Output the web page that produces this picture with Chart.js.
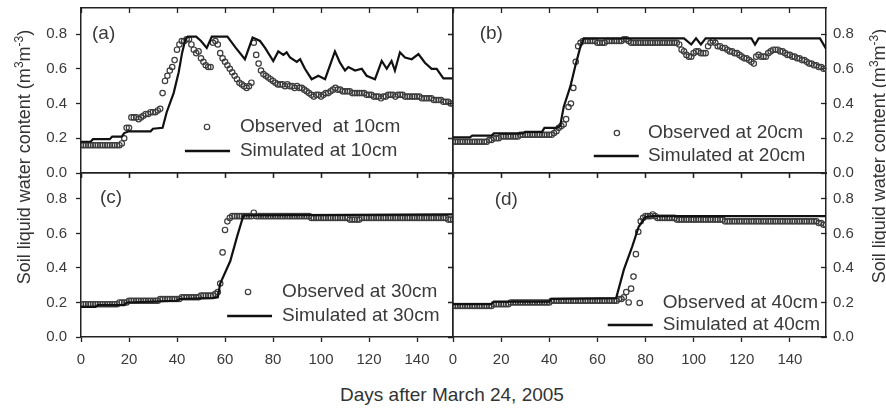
<!DOCTYPE html>
<html>
<head>
<meta charset="utf-8">
<script src="https://cdn.jsdelivr.net/npm/chart.js@4"></script>
<style>
  body { margin: 0; background: #fff; }
  #wrap { position: relative; width: 886px; height: 408px; overflow: hidden; background: #fff;
          font-family: "Liberation Sans", Arial, sans-serif; color: #333; }
  #wrap canvas { position: absolute; }
  .ytitle { position: absolute; width: 300px; height: 22px; line-height: 22px; text-align: center;
            font-size: 18px; white-space: nowrap; transform: rotate(-90deg); }
  .ytitle sup { font-size: 12px; line-height: 0; }
  #xtitle { position: absolute; left: 252px; top: 384px; width: 400px; text-align: center;
            font-size: 19px; line-height: 22px; }
</style>
</head>
<body>
<div id="wrap">
  <canvas id="pa" width="460" height="180" style="left:0;top:0"></canvas>
  <canvas id="pb" width="440" height="180" style="left:446px;top:0"></canvas>
  <canvas id="pc" width="460" height="204" style="left:0;top:166px"></canvas>
  <canvas id="pd" width="440" height="204" style="left:446px;top:166px"></canvas>
  <div class="ytitle" style="left:-126px;top:146px">Soil liquid water content (m<sup>3</sup>m<sup>-3</sup>)</div>
  <div class="ytitle" style="left:729px;top:145px">Soil liquid water content (m<sup>3</sup>m<sup>-3</sup>)</div>
  <div id="xtitle">Days after March 24, 2005</div>
</div>
<script>
/* observed: one reading per day, array index = day after March 24 */
var obs10 = [
  0.16,0.16,0.16,0.16,0.16,0.16,0.16,0.16,0.16,0.16,
  0.16,0.16,0.16,0.16,0.16,0.16,0.16,0.17,0.20,0.26,
  0.26,0.32,0.32,0.32,0.31,0.32,0.33,0.34,0.34,0.35,
  0.35,0.35,0.36,0.37,0.46,0.53,0.56,0.59,0.61,0.65,
  0.71,0.74,0.76,0.76,0.77,0.77,0.74,0.71,0.69,0.70,
  0.66,0.64,0.62,0.61,0.61,0.75,0.76,0.74,0.69,0.66,
  0.64,0.62,0.60,0.58,0.56,0.54,0.52,0.51,0.50,0.49,
  0.50,0.52,0.75,0.68,0.63,0.59,0.57,0.56,0.55,0.54,
  0.53,0.52,0.51,0.51,0.51,0.50,0.51,0.50,0.50,0.49,
  0.50,0.49,0.49,0.48,0.47,0.46,0.45,0.44,0.45,0.45,
  0.44,0.45,0.46,0.46,0.47,0.48,0.49,0.48,0.48,0.47,
  0.47,0.47,0.47,0.46,0.46,0.46,0.46,0.46,0.46,0.45,
  0.45,0.45,0.44,0.44,0.44,0.43,0.44,0.44,0.45,0.45,
  0.45,0.44,0.45,0.45,0.45,0.44,0.44,0.44,0.44,0.44,
  0.44,0.44,0.43,0.43,0.43,0.43,0.43,0.42,0.42,0.42,
  0.42,0.41,0.41,0.41,0.40,0.40
];
var obs20 = [
  0.18,0.18,0.18,0.18,0.18,0.18,0.18,0.18,0.18,0.18,
  0.18,0.18,0.18,0.18,0.18,0.19,0.19,0.20,0.20,0.20,
  0.21,0.21,0.21,0.21,0.21,0.21,0.21,0.21,0.22,0.22,
  0.22,0.22,0.22,0.22,0.22,0.22,0.22,0.22,0.22,0.22,
  0.22,0.22,0.23,0.24,0.26,0.27,0.28,0.31,0.38,0.40,
  0.49,0.64,0.73,0.75,0.76,0.76,0.76,0.76,0.76,0.76,
  0.75,0.75,0.75,0.75,0.76,0.76,0.76,0.76,0.76,0.76,
  0.76,0.77,0.77,0.76,0.75,0.75,0.75,0.75,0.75,0.75,
  0.75,0.75,0.75,0.75,0.75,0.75,0.75,0.75,0.75,0.75,
  0.75,0.75,0.75,0.75,0.74,0.71,0.70,0.68,0.67,0.67,
  0.69,0.70,0.70,0.69,0.69,0.69,0.73,0.75,0.76,0.75,
  0.73,0.73,0.72,0.72,0.71,0.70,0.70,0.69,0.69,0.68,
  0.67,0.66,0.66,0.65,0.64,0.63,0.67,0.68,0.67,0.67,
  0.67,0.69,0.70,0.71,0.71,0.71,0.70,0.70,0.69,0.68,
  0.68,0.67,0.67,0.66,0.66,0.65,0.65,0.64,0.63,0.63,
  0.62,0.62,0.61,0.61,0.60,0.60
];
var obs30 = [
  0.19,0.19,0.19,0.19,0.19,0.19,0.19,0.19,0.19,0.19,
  0.19,0.19,0.19,0.19,0.19,0.19,0.20,0.20,0.20,0.20,
  0.21,0.21,0.21,0.21,0.21,0.21,0.21,0.21,0.21,0.21,
  0.21,0.21,0.21,0.22,0.22,0.22,0.22,0.22,0.22,0.22,
  0.22,0.22,0.23,0.23,0.23,0.23,0.23,0.23,0.23,0.23,
  0.24,0.24,0.24,0.24,0.24,0.24,0.25,0.26,0.31,0.49,
  0.62,0.67,0.69,0.70,0.70,0.70,0.70,0.70,0.70,0.70,
  0.70,0.70,0.72,0.70,0.70,0.70,0.70,0.70,0.70,0.70,
  0.70,0.70,0.70,0.70,0.70,0.70,0.70,0.70,0.70,0.70,
  0.70,0.70,0.70,0.70,0.70,0.70,0.69,0.69,0.69,0.69,
  0.69,0.69,0.69,0.69,0.69,0.69,0.69,0.69,0.69,0.69,
  0.69,0.69,0.68,0.68,0.68,0.68,0.68,0.69,0.69,0.69,
  0.69,0.69,0.69,0.69,0.69,0.69,0.69,0.69,0.69,0.69,
  0.69,0.69,0.69,0.69,0.69,0.69,0.69,0.69,0.69,0.69,
  0.69,0.69,0.69,0.69,0.69,0.69,0.69,0.69,0.69,0.69,
  0.69,0.69,0.69,0.68,0.68,0.68
];
var obs40 = [
  0.18,0.18,0.18,0.18,0.18,0.18,0.18,0.18,0.18,0.18,
  0.18,0.18,0.18,0.18,0.18,0.18,0.18,0.19,0.19,0.19,
  0.19,0.19,0.19,0.19,0.20,0.20,0.20,0.20,0.20,0.20,
  0.20,0.20,0.20,0.20,0.20,0.20,0.20,0.20,0.20,0.20,
  0.20,0.21,0.21,0.21,0.21,0.21,0.21,0.21,0.21,0.21,
  0.21,0.21,0.21,0.21,0.21,0.21,0.21,0.21,0.21,0.21,
  0.21,0.21,0.21,0.21,0.21,0.21,0.21,0.21,0.21,0.22,
  0.22,0.23,0.26,0.20,0.28,0.35,0.48,0.61,0.67,0.69,
  0.70,0.70,0.70,0.71,0.70,0.69,0.69,0.69,0.69,0.69,
  0.69,0.69,0.69,0.68,0.68,0.68,0.68,0.68,0.68,0.68,
  0.68,0.68,0.68,0.68,0.68,0.68,0.68,0.68,0.68,0.68,
  0.68,0.68,0.68,0.67,0.67,0.67,0.67,0.67,0.67,0.67,
  0.67,0.67,0.67,0.67,0.67,0.67,0.67,0.67,0.67,0.67,
  0.67,0.67,0.67,0.67,0.67,0.67,0.67,0.67,0.67,0.67,
  0.67,0.67,0.67,0.67,0.67,0.67,0.67,0.67,0.67,0.67,
  0.67,0.67,0.66,0.66,0.65,0.65
];

/* simulated: model output, day / value pairs */
var simDays10 = [0, 4, 5, 12, 13, 17, 18, 20, 29, 30, 34, 35.7, 38.6, 40.7, 42.1, 43.5, 44.5, 48, 50, 52.4,
  54.5, 61, 64.5, 68.3, 71.5, 74.6, 76.7, 80.1, 82.2, 84.3, 85.7, 87.1, 89.9, 91.3, 93.3, 96.1, 98.9, 101.7,
  105.8, 107.9, 110, 111.4, 114.2, 117, 119, 122.5, 125.3, 127.4, 129.4, 130.8, 132.9, 135, 137.8, 140.6,
  143.3, 146.1, 148.2, 151, 155];
var sim10 = [0.18, 0.18, 0.195, 0.195, 0.21, 0.21, 0.23, 0.24, 0.24, 0.255, 0.26, 0.35, 0.46, 0.58, 0.69, 0.77,
  0.785, 0.785, 0.76, 0.72, 0.785, 0.785, 0.72, 0.655, 0.78, 0.76, 0.72, 0.645, 0.70, 0.68, 0.695, 0.665, 0.64,
  0.655, 0.60, 0.54, 0.56, 0.54, 0.70, 0.635, 0.59, 0.61, 0.59, 0.60, 0.56, 0.54, 0.645, 0.60, 0.645, 0.59,
  0.695, 0.665, 0.655, 0.685, 0.635, 0.60, 0.60, 0.545, 0.545];
var simDays20 = [0, 7, 8, 16, 17, 29, 30, 37, 38, 43, 44.5, 46, 48.8, 50.9, 53, 54.4, 96, 99, 101, 103, 105,
  124, 125.5, 127, 152.5, 155];
var sim20 = [0.205, 0.205, 0.215, 0.215, 0.228, 0.228, 0.237, 0.237, 0.26, 0.26, 0.27, 0.38, 0.50, 0.62, 0.73,
  0.775, 0.775, 0.74, 0.775, 0.74, 0.775, 0.775, 0.74, 0.775, 0.775, 0.715];
var simDays30 = [0, 6, 7, 18, 19, 40, 41, 55, 57, 58, 62.2, 65, 67.7, 155];
var sim30 = [0.175, 0.175, 0.185, 0.185, 0.20, 0.21, 0.22, 0.225, 0.23, 0.31, 0.44, 0.58, 0.705, 0.71];
var simDays40 = [0, 16, 17, 40, 41, 67.8, 71, 74.5, 77.2, 79.9, 83, 155];
var sim40 = [0.19, 0.19, 0.205, 0.205, 0.22, 0.225, 0.39, 0.525, 0.64, 0.695, 0.70, 0.70];

var FONT = '"Liberation Sans", Arial, sans-serif';
var INK = '#222';
var TXT = '#3a3a3a';
var RING = '#3c3c3c';

// panel tag + in-plot legend, placed in data units through the chart's scales
var panelText = {
  id: 'panelText',
  afterDatasetsDraw: function (chart, args, o) {
    var ctx = chart.ctx, xs = chart.scales.x, ys = chart.scales.y;
    var X = function (v) { return xs.getPixelForValue(v); };
    var Y = function (v) { return ys.getPixelForValue(v); };
    ctx.save();
    ctx.fillStyle = TXT;
    ctx.font = '19px ' + FONT;
    ctx.textBaseline = 'middle';
    ctx.textAlign = 'left';
    ctx.fillText(o.tag, X(o.tagAt[0]), Y(o.tagAt[1]));
    ctx.strokeStyle = RING;
    ctx.lineWidth = 1.2;
    ctx.beginPath();
    ctx.arc(X(o.markAt), Y(o.obsY), 2.7, 0, 2 * Math.PI);
    ctx.stroke();
    ctx.fillText(o.obsLabel, X(o.textX), Y(o.obsY));
    ctx.strokeStyle = '#111';
    ctx.lineWidth = 2.5;
    ctx.beginPath();
    ctx.moveTo(X(o.lineFrom), Y(o.simY));
    ctx.lineTo(X(o.lineTo), Y(o.simY));
    ctx.stroke();
    ctx.fillText(o.simLabel, X(o.textX), Y(o.simY));
    ctx.restore();
  }
};

function fixSize(prop, size) {
  return function (s) {
    s[prop] = size;
    s.paddingLeft = 0; s.paddingRight = 0; s.paddingTop = 0; s.paddingBottom = 0;
  };
}

function xAxis(pos, labels, tl, size) {
  return {
    type: 'linear', position: pos, min: 0, max: 155,
    ticks: { stepSize: 20, includeBounds: false, display: labels, color: TXT, padding: 9,
             font: { size: 15, family: FONT }, maxRotation: 0, autoSkip: false },
    grid: { drawOnChartArea: false, drawTicks: true, tickLength: tl, tickWidth: 1.3, tickColor: INK },
    border: { display: true, color: INK, width: 1.5 },
    afterFit: fixSize('height', size)
  };
}

function yAxis(pos, labels, tl, pad, size) {
  return {
    type: 'linear', position: pos, min: 0, max: 0.95,
    ticks: { stepSize: 0.2, includeBounds: false, display: labels, color: TXT, padding: pad,
             font: { size: 15, family: FONT },
             callback: function (v) { return v.toFixed(1); } },
    grid: { drawOnChartArea: false, drawTicks: true, tickLength: tl, tickWidth: 1.3, tickColor: INK },
    border: { display: true, color: INK, width: 1.5 },
    afterFit: fixSize('width', size)
  };
}

function panel(id, p) {
  var obsPts = p.obs.map(function (v, day) { return { x: day, y: v }; });
  var simPts = p.simDays.map(function (d, i) { return { x: d, y: p.sim[i] }; });
  var left = p.side === 'left';
  return new Chart(document.getElementById(id), {
    type: 'scatter',
    data: {
      datasets: [
        { label: p.legend.simLabel, data: simPts, showLine: true, borderColor: '#111', borderWidth: 2.2,
          pointRadius: 0, tension: 0, order: 1 },
        { label: p.legend.obsLabel, data: obsPts, pointRadius: 2.7, pointBorderWidth: 1.2,
          pointBorderColor: RING, pointBackgroundColor: 'rgba(255,255,255,0)', order: 2 }
      ]
    },
    options: {
      responsive: false, animation: false, devicePixelRatio: 1,
      layout: { padding: 0, autoPadding: false },
      plugins: { legend: { display: false }, tooltip: { enabled: false }, panelText: p.legend },
      scales: {
        x: xAxis('bottom', p.bottom, 5, p.bottom ? 33 : 7),
        x2: xAxis('top', false, -5, p.bottom ? 7 : 8),
        y: left ? yAxis('left', true, 5, 9, 81) : yAxis('left', false, 5, 0, 7),
        y2: left ? yAxis('right', false, -5, 0, 7) : yAxis('right', true, -5, 12, 60)
      }
    },
    plugins: [panelText]
  });
}

panel('pa', { obs: obs10, simDays: simDays10, sim: sim10, side: 'left', bottom: false,
  legend: { tag: '(a)', tagAt: [4.6, 0.8], markAt: 52.5, obsY: 0.265, simY: 0.127, lineFrom: 43.3, lineTo: 62.1,
            textX: 66.2, obsLabel: 'Observed  at 10cm', simLabel: 'Simulated at 10cm' } });
panel('pb', { obs: obs20, simDays: simDays20, sim: sim20, side: 'right', bottom: false,
  legend: { tag: '(b)', tagAt: [11.1, 0.8], markAt: 68.1, obsY: 0.23, simY: 0.098, lineFrom: 58.5, lineTo: 77.2,
            textX: 81, obsLabel: 'Observed at 20cm', simLabel: 'Simulated at 20cm' } });
panel('pc', { obs: obs30, simDays: simDays30, sim: sim30, side: 'left', bottom: true,
  legend: { tag: '(c)', tagAt: [7.9, 0.805], markAt: 69.6, obsY: 0.261, simY: 0.122, lineFrom: 60.9, lineTo: 79.6,
            textX: 83.8, obsLabel: 'Observed at 30cm', simLabel: 'Simulated at 30cm' } });
panel('pd', { obs: obs40, simDays: simDays40, sim: sim40, side: 'right', bottom: true,
  legend: { tag: '(d)', tagAt: [17.3, 0.794], markAt: 77.6, obsY: 0.197, simY: 0.07, lineFrom: 64.3, lineTo: 83,
            textX: 87.2, obsLabel: 'Observed at 40cm', simLabel: 'Simulated at 40cm' } });
</script>
</body>
</html>
